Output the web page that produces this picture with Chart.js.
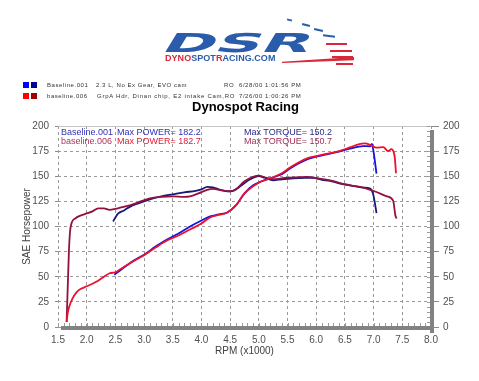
<!DOCTYPE html>
<html>
<head>
<meta charset="utf-8">
<script src="https://cdn.jsdelivr.net/npm/chart.js@4/dist/chart.umd.min.js"></script>
<style>
  html, body { margin: 0; padding: 0; background: #fff; }
  #wrap { position: relative; width: 479px; height: 381px; overflow: hidden; font-family: "Liberation Sans", Arial, sans-serif; }
  #c { position: absolute; left: 0; top: 0; }
  .abs { position: absolute; white-space: pre; line-height: 1; }
  .lg { font-size: 6px; letter-spacing: 0.55px; color: #333; }
  .sq { position: absolute; width: 6px; height: 6px; }
  .ann { font-size: 9px; }
  .dash { position: absolute; height: 2px; background: #2a5cab; transform: rotate(14deg); }
  .rs { position: absolute; height: 2px; background: #d8283a; }
</style>
</head>
<body>
<div id="wrap">
  <canvas id="c" width="479" height="381"></canvas>

  <!-- logo -->
  <div class="abs" style="left:157px; top:30px; font-family:'DejaVu Sans'; font-weight:bold; font-size:26px; color:#2a5cab; transform-origin:left bottom; transform:scaleX(2.45) skewX(-14deg);">DSR</div>
  <div class="abs" style="left:165px; top:54px; font-weight:bold; font-size:9px; letter-spacing:0.05px;"><span style="color:#d8283a">DYNO</span><span style="color:#2a5cab">SPOT</span><span style="color:#d8283a">R</span><span style="color:#2a5cab">ACING.COM</span></div>
  <div class="dash" style="left:287px; top:19px; width:5px;"></div>
  <div class="dash" style="left:302px; top:24px; width:8px;"></div>
  <div class="dash" style="left:314px; top:29px; width:9px;"></div>
  <div class="dash" style="left:323px; top:35px; width:12px; transform:rotate(8deg);"></div>
  <div class="rs" style="left:326px; top:43px; width:21px;"></div>
  <div class="rs" style="left:330px; top:50px; width:22px;"></div>
  <div class="rs" style="left:332px; top:56px; width:21px;"></div>
  <div class="rs" style="left:336px; top:63px; width:17px;"></div>
  <div style="position:absolute; left:282px; top:57px; width:72px; height:6px; background:#d8283a; clip-path:polygon(0 80%, 100% 0, 100% 55%, 0 100%);"></div>

  <!-- legend rows -->
  <div class="sq" style="left:23px; top:82px; background:#0000ff;"></div>
  <div class="sq" style="left:31px; top:82px; background:#000090;"></div>
  <div class="sq" style="left:23px; top:93px; background:#ff0000;"></div>
  <div class="sq" style="left:31px; top:93px; background:#a00000;"></div>
  <div class="abs lg" style="left:47px; top:81.5px;">Baseline.001</div>
  <div class="abs lg" style="left:96px; top:81.5px;">2.3 L, No Ex Gear, EVO cam</div>
  <div class="abs lg" style="left:224px; top:81.5px;">RO</div>
  <div class="abs lg" style="left:239px; top:81.5px;">6/28/00 1:01:56 PM</div>
  <div class="abs lg" style="left:47px; top:93px;">baseline.006</div>
  <div class="abs lg" style="left:97px; top:93px; letter-spacing:0.75px;">GrpA Hdr, Dinan chip, E2 intake Cam,RO</div>
  <div class="abs lg" style="left:239px; top:93px;">7/26/00 1:00:26 PM</div>

  <div class="abs" style="left:0; width:491px; text-align:center; top:99.5px; font-weight:bold; font-size:13px; color:#000;">Dynospot Racing</div>

  <!-- annotations -->
  <div class="abs ann" style="left:61px; top:127.5px; color:#3030b8;">Baseline.001</div>
  <div class="abs ann" style="left:117px; top:127.5px; color:#3030b8;">Max POWER= 182.2</div>
  <div class="abs ann" style="left:244px; top:127.5px; color:#2a2a90;">Max TORQUE= 150.2</div>
  <div class="abs ann" style="left:61px; top:137px; color:#b03060;">baseline.006</div>
  <div class="abs ann" style="left:117px; top:137px; color:#d8203c;">Max POWER= 182.7</div>
  <div class="abs ann" style="left:244px; top:137px; color:#a03058;">Max TORQUE= 150.7</div>
</div>

<script>
// ---- data ----
const xTicks = [1.5, 2.0, 2.5, 3.0, 3.5, 4.0, 4.5, 5.0, 5.5, 6.0, 6.5, 7.0, 7.5, 8.0];
const yTicks = [0, 25, 50, 75, 100, 125, 150, 175, 200];

const rpmPower001 = [2.48, 2.6, 2.8, 3.0, 3.2, 3.4, 3.6, 3.8, 4.0, 4.15, 4.3, 4.45, 4.6, 4.75, 4.9, 5.05, 5.25, 5.4, 5.55, 5.7, 5.85, 6.0, 6.24, 6.4, 6.59, 6.82, 6.94, 6.97, 6.99, 7.02, 7.05];
const power001 =    [52, 57, 65.5, 72, 80, 87, 93, 100, 106, 110, 112, 114, 121, 133, 141, 145, 149, 152, 158, 163, 167, 169.5, 172.5, 174.5, 177.5, 180, 179.8, 182.2, 177.5, 166, 152.6];

const rpmTorque001 = [2.46, 2.5, 2.55, 2.65, 2.75, 2.9, 3.1, 3.3, 3.5, 3.7, 3.9, 4.0, 4.1, 4.2, 4.3, 4.45, 4.55, 4.7, 4.85, 5.0, 5.1, 5.25, 5.4, 5.6, 5.8, 5.95, 6.1, 6.24, 6.4, 6.59, 6.82, 6.94, 6.99, 7.02, 7.05];
const torque001 =    [105, 109, 113, 116, 119.5, 123, 127, 130, 132, 134, 135.5, 137, 139.5, 139, 137, 135, 135.5, 141, 147, 150.2, 148.5, 146, 147, 148, 148.5, 148.5, 146.5, 145.5, 143, 141, 138.7, 137.7, 132.7, 124, 113.4];

const rpmPower006 = [1.65, 1.67, 1.70, 1.75, 1.83, 1.9, 2.0, 2.1, 2.2, 2.3, 2.4, 2.5, 2.6, 2.8, 3.0, 3.2, 3.4, 3.6, 3.8, 4.0, 4.15, 4.3, 4.45, 4.6, 4.75, 4.9, 5.05, 5.25, 5.4, 5.55, 5.7, 5.85, 6.0, 6.2, 6.4, 6.6, 6.75, 6.85, 6.95, 7.05, 7.17, 7.25, 7.31, 7.35, 7.37, 7.39];
const power006 =    [5, 14, 21, 28, 35, 38, 40.5, 43, 46, 50, 53.5, 54.5, 58, 65, 71.5, 79, 86, 91, 97, 103, 109, 111.5, 114, 121, 133, 140, 145, 149, 153, 159, 164, 168, 170, 172.5, 175, 179, 182, 182.7, 181, 178.5, 179, 175, 177, 174, 168, 153];

const rpmTorque006 = [1.65, 1.67, 1.69, 1.71, 1.74, 1.8, 1.9, 2.0, 2.1, 2.2, 2.3, 2.4, 2.5, 2.6, 2.75, 2.9, 3.1, 3.3, 3.5, 3.7, 3.8, 3.95, 4.1, 4.2, 4.35, 4.5, 4.6, 4.75, 4.9, 5.0, 5.1, 5.25, 5.45, 5.7, 5.85, 6.0, 6.24, 6.4, 6.59, 6.82, 7.05, 7.23, 7.34, 7.38, 7.4];
const torque006 =    [5, 40, 75, 95, 104, 108, 111, 113, 115, 118, 118, 116.5, 117.5, 119, 121, 124, 128, 129.5, 130, 129.5, 130, 133, 136.5, 137.5, 136, 135, 137, 145, 149.5, 150.7, 149, 147, 148.3, 149, 149.3, 148, 146, 143.5, 141, 138.7, 134.3, 130, 125.8, 111, 108];

function pts(xs, ys) { return xs.map((x, i) => ({ x: x, y: ys[i] })); }

const CA = { left: 58, right: 431, top: 126, bottom: 327 };

const decor = {
  id: 'decor',
  afterDraw(chart) {
    const ctx = chart.ctx;
    const a = chart.chartArea;
    const xs = chart.scales.x, ys = chart.scales.y;
    ctx.save();
    ctx.strokeStyle = '#c4c4c4';
    ctx.lineWidth = 1;
    ctx.beginPath();
    ctx.moveTo(a.left, a.top + 0.5);
    ctx.lineTo(a.right, a.top + 0.5);
    ctx.stroke();
    ctx.strokeStyle = '#9a9a9a';
    ctx.beginPath();
    for (let k = 15; k <= 80; k++) {
      const px = Math.round(xs.getPixelForValue(k / 10)) + 0.5;
      ctx.moveTo(px, a.bottom - 1);
      ctx.lineTo(px, a.bottom - 4);
    }
    for (let v = 0; v <= 200; v += 5) {
      const py = Math.round(ys.getPixelForValue(v)) + 0.5;
      ctx.moveTo(a.right - 1, py);
      ctx.lineTo(a.right - 4, py);
    }
    ctx.stroke();
    ctx.fillStyle = '#828282';
    ctx.fillRect(a.left + 3, a.bottom - 1, a.right - a.left + 0, 4);
    ctx.fillRect(a.right - 1, a.top + 4, 4, a.bottom - a.top + 2);
    ctx.restore();
  }
};

const tickFont = { family: "'Liberation Sans', Arial, sans-serif", size: 10 };

new Chart(document.getElementById('c'), {
  type: 'line',
  data: {
    datasets: [
      { label: 'baseline.006 power', data: pts(rpmPower006, power006), borderColor: '#f0102c' },
      { label: 'Baseline.001 power', data: pts(rpmPower001, power001), borderColor: '#1414e0' },
      { label: 'baseline.006 torque', data: pts(rpmTorque006, torque006), borderColor: '#941040' },
      { label: 'Baseline.001 torque', data: pts(rpmTorque001, torque001), borderColor: '#181878' }
    ]
  },
  options: {
    responsive: false,
    animation: false,
    events: [],
    datasets: {
      line: { pointRadius: 0, borderWidth: 1.8, fill: false, cubicInterpolationMode: 'monotone' }
    },
    layout: { padding: { top: CA.top, left: 0, right: 0, bottom: 0 } },
    plugins: { legend: { display: false }, tooltip: { enabled: false }, title: { display: false } },
    scales: {
      x: {
        type: 'linear', min: 1.5, max: 8.0,
        afterBuildTicks: s => { s.ticks = xTicks.map(v => ({ value: v })); },
        afterFit: s => { s.height = 381 - CA.bottom; },
        ticks: { font: tickFont, color: '#505050', padding: 7, maxRotation: 0, callback: v => v.toFixed(1) },
        grid: { color: '#9a9a9a', drawTicks: false, tickLength: 0 },
        border: { display: false, dash: [3, 3] },
        title: { display: true, text: 'RPM (x1000)', font: tickFont, color: '#404040', padding: { top: 0, bottom: 24 } }
      },
      y: {
        type: 'linear', position: 'left', min: 0, max: 200,
        afterBuildTicks: s => { s.ticks = yTicks.map(v => ({ value: v })); },
        afterFit: s => { s.width = CA.left; },
        ticks: { font: tickFont, color: '#505050', padding: 6 },
        grid: { color: '#9a9a9a', tickLength: 3, tickColor: '#8a8a8a', tickBorderDash: [] },
        border: { display: false, dash: [3, 3] },
        title: { display: true, text: 'SAE Horsepower', font: tickFont, color: '#404040', padding: { top: 21.5, bottom: 0 } }
      },
      y2: {
        type: 'linear', position: 'right', min: 0, max: 200,
        afterBuildTicks: s => { s.ticks = yTicks.map(v => ({ value: v })); },
        afterFit: s => { s.width = 479 - CA.right; },
        ticks: { font: tickFont, color: '#505050', padding: 4 },
        grid: { drawOnChartArea: false, tickLength: 8, tickColor: '#8a8a8a' },
        border: { display: false }
      }
    }
  },
  plugins: [decor]
});
</script>
</body>
</html>
